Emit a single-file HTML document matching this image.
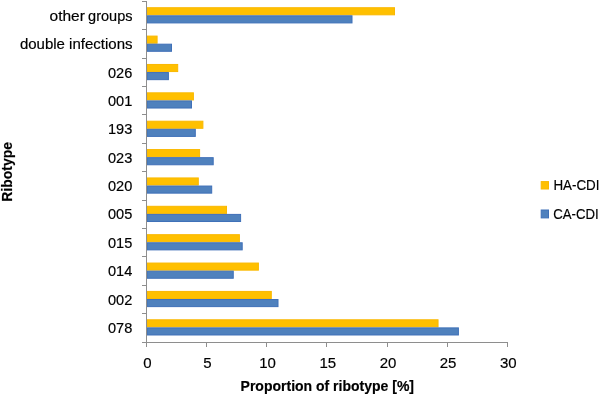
<!DOCTYPE html>
<html><head><meta charset="utf-8"><style>
html,body{margin:0;padding:0;background:#fff;}
svg{display:block;will-change:transform;}
text{font-family:"Liberation Sans",sans-serif;fill:#000;stroke:#000;stroke-width:0.18px;}
</style></head><body>
<svg width="600" height="396" viewBox="0 0 600 396">
<rect width="600" height="396" fill="#fff"/>
<rect x="147.0" y="7.72" width="247.50" height="7.10" fill="#FFC000" stroke="#FAB800" stroke-width="1"/>
<rect x="147.0" y="15.82" width="205.00" height="7.10" fill="#4F81BD" stroke="#3F70B8" stroke-width="1"/>
<rect x="147.0" y="36.09" width="10.10" height="7.10" fill="#FFC000" stroke="#FAB800" stroke-width="1"/>
<rect x="147.0" y="44.19" width="24.50" height="7.10" fill="#4F81BD" stroke="#3F70B8" stroke-width="1"/>
<rect x="147.0" y="64.46" width="30.70" height="7.10" fill="#FFC000" stroke="#FAB800" stroke-width="1"/>
<rect x="147.0" y="72.56" width="21.40" height="7.10" fill="#4F81BD" stroke="#3F70B8" stroke-width="1"/>
<rect x="147.0" y="92.83" width="46.40" height="7.10" fill="#FFC000" stroke="#FAB800" stroke-width="1"/>
<rect x="147.0" y="100.93" width="44.50" height="7.10" fill="#4F81BD" stroke="#3F70B8" stroke-width="1"/>
<rect x="147.0" y="121.20" width="55.90" height="7.10" fill="#FFC000" stroke="#FAB800" stroke-width="1"/>
<rect x="147.0" y="129.30" width="48.30" height="7.10" fill="#4F81BD" stroke="#3F70B8" stroke-width="1"/>
<rect x="147.0" y="149.57" width="52.60" height="7.10" fill="#FFC000" stroke="#FAB800" stroke-width="1"/>
<rect x="147.0" y="157.67" width="66.20" height="7.10" fill="#4F81BD" stroke="#3F70B8" stroke-width="1"/>
<rect x="147.0" y="177.94" width="51.30" height="7.10" fill="#FFC000" stroke="#FAB800" stroke-width="1"/>
<rect x="147.0" y="186.04" width="64.70" height="7.10" fill="#4F81BD" stroke="#3F70B8" stroke-width="1"/>
<rect x="147.0" y="206.31" width="79.50" height="7.10" fill="#FFC000" stroke="#FAB800" stroke-width="1"/>
<rect x="147.0" y="214.41" width="93.60" height="7.10" fill="#4F81BD" stroke="#3F70B8" stroke-width="1"/>
<rect x="147.0" y="234.68" width="92.40" height="7.10" fill="#FFC000" stroke="#FAB800" stroke-width="1"/>
<rect x="147.0" y="242.78" width="95.20" height="7.10" fill="#4F81BD" stroke="#3F70B8" stroke-width="1"/>
<rect x="147.0" y="263.05" width="111.40" height="7.10" fill="#FFC000" stroke="#FAB800" stroke-width="1"/>
<rect x="147.0" y="271.15" width="86.25" height="7.10" fill="#4F81BD" stroke="#3F70B8" stroke-width="1"/>
<rect x="147.0" y="291.42" width="124.30" height="7.10" fill="#FFC000" stroke="#FAB800" stroke-width="1"/>
<rect x="147.0" y="299.52" width="131.00" height="7.10" fill="#4F81BD" stroke="#3F70B8" stroke-width="1"/>
<rect x="147.0" y="319.79" width="291.05" height="7.10" fill="#FFC000" stroke="#FAB800" stroke-width="1"/>
<rect x="147.0" y="327.89" width="311.40" height="7.10" fill="#4F81BD" stroke="#3F70B8" stroke-width="1"/>
<line x1="146.5" y1="1" x2="146.5" y2="343" stroke="#8E8E8E" stroke-width="1"/>
<line x1="142" y1="342.5" x2="508" y2="342.5" stroke="#8E8E8E" stroke-width="1"/>
<line x1="142" y1="1.5" x2="147" y2="1.5" stroke="#8E8E8E" stroke-width="1"/>
<line x1="142" y1="29.5" x2="147" y2="29.5" stroke="#8E8E8E" stroke-width="1"/>
<line x1="142" y1="58.5" x2="147" y2="58.5" stroke="#8E8E8E" stroke-width="1"/>
<line x1="142" y1="86.5" x2="147" y2="86.5" stroke="#8E8E8E" stroke-width="1"/>
<line x1="142" y1="114.5" x2="147" y2="114.5" stroke="#8E8E8E" stroke-width="1"/>
<line x1="142" y1="143.5" x2="147" y2="143.5" stroke="#8E8E8E" stroke-width="1"/>
<line x1="142" y1="171.5" x2="147" y2="171.5" stroke="#8E8E8E" stroke-width="1"/>
<line x1="142" y1="200.5" x2="147" y2="200.5" stroke="#8E8E8E" stroke-width="1"/>
<line x1="142" y1="228.5" x2="147" y2="228.5" stroke="#8E8E8E" stroke-width="1"/>
<line x1="142" y1="256.5" x2="147" y2="256.5" stroke="#8E8E8E" stroke-width="1"/>
<line x1="142" y1="285.5" x2="147" y2="285.5" stroke="#8E8E8E" stroke-width="1"/>
<line x1="142" y1="313.5" x2="147" y2="313.5" stroke="#8E8E8E" stroke-width="1"/>
<line x1="142" y1="342.5" x2="147" y2="342.5" stroke="#8E8E8E" stroke-width="1"/>
<line x1="146.5" y1="342" x2="146.5" y2="347" stroke="#8E8E8E" stroke-width="1"/>
<line x1="206.5" y1="342" x2="206.5" y2="347" stroke="#8E8E8E" stroke-width="1"/>
<line x1="266.5" y1="342" x2="266.5" y2="347" stroke="#8E8E8E" stroke-width="1"/>
<line x1="326.5" y1="342" x2="326.5" y2="347" stroke="#8E8E8E" stroke-width="1"/>
<line x1="387.5" y1="342" x2="387.5" y2="347" stroke="#8E8E8E" stroke-width="1"/>
<line x1="447.5" y1="342" x2="447.5" y2="347" stroke="#8E8E8E" stroke-width="1"/>
<line x1="507.5" y1="342" x2="507.5" y2="347" stroke="#8E8E8E" stroke-width="1"/>
<g font-size="15">
<text x="49.6" y="21.22" textLength="35.3" lengthAdjust="spacingAndGlyphs">other</text>
<text x="132.5" y="21.22" text-anchor="end" textLength="44.4" lengthAdjust="spacingAndGlyphs">groups</text>
<text x="132.5" y="48.69" text-anchor="end">double infections</text>
<text x="132.3" y="77.56" text-anchor="end" font-size="15.3" textLength="24.3" lengthAdjust="spacingAndGlyphs">026</text>
<text x="132.3" y="105.93" text-anchor="end" font-size="15.3" textLength="24.3" lengthAdjust="spacingAndGlyphs">001</text>
<text x="132.3" y="134.30" text-anchor="end" font-size="15.3" textLength="24.3" lengthAdjust="spacingAndGlyphs">193</text>
<text x="132.3" y="162.67" text-anchor="end" font-size="15.3" textLength="24.3" lengthAdjust="spacingAndGlyphs">023</text>
<text x="132.3" y="191.04" text-anchor="end" font-size="15.3" textLength="24.3" lengthAdjust="spacingAndGlyphs">020</text>
<text x="132.3" y="219.41" text-anchor="end" font-size="15.3" textLength="24.3" lengthAdjust="spacingAndGlyphs">005</text>
<text x="132.3" y="247.78" text-anchor="end" font-size="15.3" textLength="24.3" lengthAdjust="spacingAndGlyphs">015</text>
<text x="132.3" y="276.15" text-anchor="end" font-size="15.3" textLength="24.3" lengthAdjust="spacingAndGlyphs">014</text>
<text x="132.3" y="304.52" text-anchor="end" font-size="15.3" textLength="24.3" lengthAdjust="spacingAndGlyphs">002</text>
<text x="132.3" y="332.89" text-anchor="end" font-size="15.3" textLength="24.3" lengthAdjust="spacingAndGlyphs">078</text>
<text x="147.30" y="367.8" text-anchor="middle">0</text>
<text x="207.47" y="367.8" text-anchor="middle">5</text>
<text x="267.63" y="367.8" text-anchor="middle">10</text>
<text x="327.80" y="367.8" text-anchor="middle">15</text>
<text x="387.97" y="367.8" text-anchor="middle">20</text>
<text x="448.13" y="367.8" text-anchor="middle">25</text>
<text x="508.30" y="367.8" text-anchor="middle">30</text>
</g>
<text x="327.3" y="390.7" text-anchor="middle" font-size="14" font-weight="bold">Proportion of ribotype [%]</text>
<text transform="translate(11.6,171.9) rotate(-90)" text-anchor="middle" font-size="14" font-weight="bold">Ribotype</text>
<rect x="541.2" y="181.6" width="7.3" height="7.4" fill="#FFC000" stroke="#FAB800" stroke-width="1"/>
<rect x="541.2" y="210.0" width="7.3" height="7.9" fill="#4F81BD" stroke="#3F70B8" stroke-width="1"/>
<g font-size="15">
<text x="553.4" y="190.4" textLength="46.1" lengthAdjust="spacingAndGlyphs">HA-CDI</text>
<text x="553.2" y="219.1" textLength="45.4" lengthAdjust="spacingAndGlyphs">CA-CDI</text>
</g>
</svg>
</body></html>
